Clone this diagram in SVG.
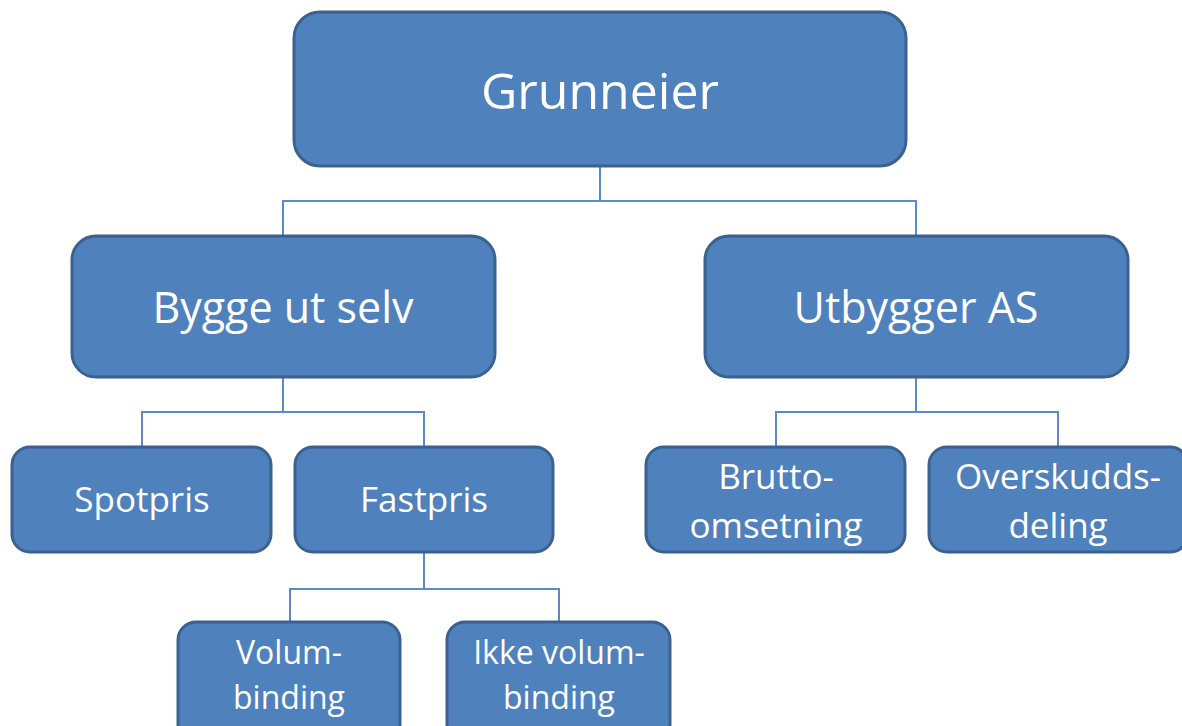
<svg xmlns="http://www.w3.org/2000/svg" width="1182" height="726" viewBox="0 0 1182 726">
<style>
.box{fill:#4F81BD;stroke:#3A6190;stroke-width:3}
.t{fill:#fff;font-family:"Open Sans","Noto Sans",sans-serif;text-anchor:middle}
.c{fill:none;stroke:#5B8AC4;stroke-width:2}
</style>
<rect width="1182" height="726" fill="#fff"/>
<g id="connectors">
<path class="c" d="M600 166V201M283 236V201H916V236"/>
<path class="c" d="M283 377V412M142 447V412H424V447"/>
<path class="c" d="M916 377V412M776 447V412H1058V447"/>
<path class="c" d="M424 552V589M290 622V589H559V622"/>
</g>
<g id="grunneier"><rect class="box" x="294" y="12" width="612" height="154" rx="26"/><text class="t" x="600" y="109" font-size="50">Grunneier</text></g>
<g id="bygge"><rect class="box" x="72" y="236" width="423" height="141" rx="24"/><text class="t" x="283" y="323" font-size="43">Bygge ut selv</text></g>
<g id="utbygger"><rect class="box" x="705" y="236" width="423" height="141" rx="24"/><text class="t" x="916" y="323" font-size="43">Utbygger AS</text></g>
<g id="spotpris"><rect class="box" x="12" y="447" width="259" height="105" rx="18"/><text class="t" x="142" y="512" font-size="35">Spotpris</text></g>
<g id="fastpris"><rect class="box" x="295" y="447" width="258" height="105" rx="18"/><text class="t" x="424" y="512" font-size="35">Fastpris</text></g>
<g id="brutto"><rect class="box" x="646" y="447" width="259" height="105" rx="18"/><text class="t" x="776" y="489" font-size="35">Brutto-</text><text class="t" x="776" y="538" font-size="35">omsetning</text></g>
<g id="overskudd"><rect class="box" x="929" y="447" width="259" height="105" rx="18"/><text class="t" x="1058" y="489" font-size="35">Overskudds-</text><text class="t" x="1058" y="538" font-size="35">deling</text></g>
<g id="volum"><rect class="box" x="178" y="622" width="222" height="120" rx="18"/><text class="t" x="289" y="664" font-size="32">Volum-</text><text class="t" x="289" y="709" font-size="32">binding</text></g>
<g id="ikke"><rect class="box" x="447" y="622" width="223" height="120" rx="18"/><text class="t" x="559" y="664" font-size="32">Ikke volum-</text><text class="t" x="559" y="709" font-size="32">binding</text></g>
</svg>
